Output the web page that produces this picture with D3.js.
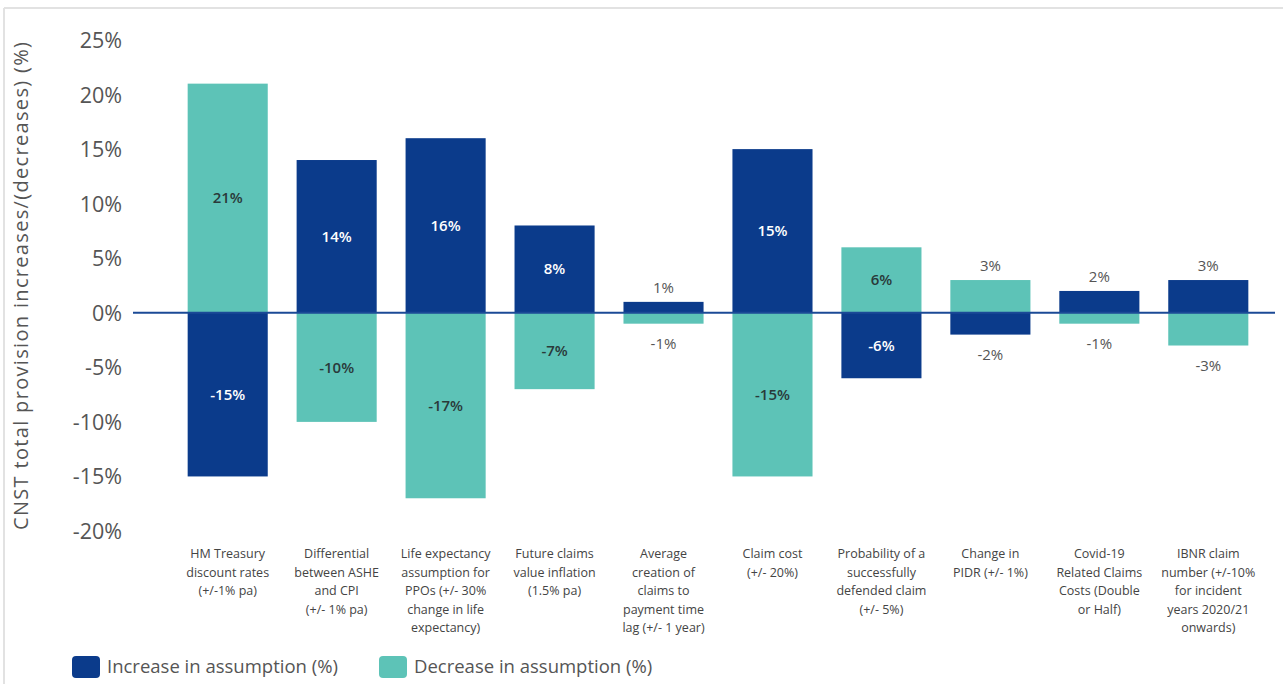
<!DOCTYPE html>
<html>
<head>
<meta charset="utf-8">
<script src="https://cdn.jsdelivr.net/npm/d3@7"></script>
<style>
  html, body { margin: 0; padding: 0; background: #fff; }
  svg { display: block; font-family: "Open Sans", "Noto Sans", sans-serif; }
</style>
</head>
<body>
<svg id="chart" width="1283" height="684"></svg>
<script>
// Sensitivity of the CNST provision to changes in key assumptions
const categories = [
  ["HM Treasury", "discount rates", "(+/-1% pa)"],
  ["Differential", "between ASHE", "and CPI", "(+/- 1% pa)"],
  ["Life expectancy", "assumption for", "PPOs (+/- 30%", "change in life", "expectancy)"],
  ["Future claims", "value inflation", "(1.5% pa)"],
  ["Average", "creation of", "claims to", "payment time", "lag (+/- 1 year)"],
  ["Claim cost", "(+/- 20%)"],
  ["Probability of a", "successfully", "defended claim", "(+/- 5%)"],
  ["Change in", "PIDR (+/- 1%)"],
  ["Covid-19", "Related Claims", "Costs (Double", "or Half)"],
  ["IBNR claim", "number (+/-10%", "for incident", "years 2020/21", "onwards)"]
];
const increaseValues = [-15, 14, 16, 8, 1, 15, -6, -2, 2, 3];
const decreaseValues = [21, -10, -17, -7, -1, -15, 6, 3, -1, -3];
const yTicks = [25, 20, 15, 10, 5, 0, -5, -10, -15, -20];
const seriesNames = ["Increase in assumption (%)", "Decrease in assumption (%)"];
const seriesColors = ["#0b3b8b", "#5dc3b7"];

const svg = d3.select("#chart");

// light frame along the top and left
svg.append("line").attr("x1", 4).attr("x2", 1283).attr("y1", 8).attr("y2", 8)
  .attr("stroke", "#e2e2e2").attr("stroke-width", 2);
svg.append("line").attr("x1", 4).attr("x2", 4).attr("y1", 8).attr("y2", 684)
  .attr("stroke", "#e2e2e2").attr("stroke-width", 2);

const y = d3.scaleLinear().domain([-20, 25]).range([531, 40]);
const x = d3.scaleBand().domain(d3.range(categories.length))
  .range([173.5, 1262.5]).paddingInner(0.265).paddingOuter(0.13);

// y axis tick labels
const yAxis = d3.axisLeft(y).tickValues(yTicks).tickSize(0).tickPadding(0)
  .tickFormat(d => d + "%");
const gy = svg.append("g").attr("transform", "translate(122,0)").call(yAxis);
gy.select(".domain").remove();
gy.selectAll("text").attr("font-size", 21.5).attr("fill", "#555")
  .attr("font-family", "'Open Sans', sans-serif").attr("dy", "0.35em");

// y axis title
svg.append("text")
  .attr("transform", "translate(28,286) rotate(-90)")
  .attr("text-anchor", "middle")
  .attr("font-size", 20).attr("fill", "#555")
  .attr("textLength", 488).attr("lengthAdjust", "spacing")
  .text("CNST total provision increases/(decreases) (%)");

// one rectangle per series per category
const rows = [];
categories.forEach((c, i) => {
  rows.push({ i, s: 0, v: increaseValues[i] });
  rows.push({ i, s: 1, v: decreaseValues[i] });
});

svg.append("g").selectAll("rect").data(rows).join("rect")
  .attr("x", d => x(d.i))
  .attr("width", x.bandwidth())
  .attr("y", d => y(Math.max(0, d.v)))
  .attr("height", d => Math.abs(y(d.v) - y(0)))
  .attr("fill", d => seriesColors[d.s]);

// zero line
svg.append("line").attr("x1", 133).attr("x2", 1275)
  .attr("y1", y(0)).attr("y2", y(0))
  .attr("stroke", "#1b4a96").attr("stroke-width", 2);

// value labels: inside large bars, outside small ones
svg.append("g").selectAll("text").data(rows).join("text")
  .attr("x", d => x(d.i) + x.bandwidth() / 2)
  .attr("y", d => {
    if (Math.abs(d.v) >= 5) return (y(d.v) + y(0)) / 2;
    return d.v > 0 ? y(d.v) - 14 : y(d.v) + 20;
  })
  .attr("dy", "0.35em")
  .attr("text-anchor", "middle")
  .attr("font-size", 15)
  .attr("font-weight", d => Math.abs(d.v) >= 5 ? 600 : 400)
  .attr("fill", d => Math.abs(d.v) >= 5 ? (d.s === 0 ? "#ffffff" : "#2a3a3a") : "#555")
  .text(d => d.v + "%");

// category labels
const cat = svg.append("g").selectAll("text").data(categories).join("text")
  .attr("x", (d, i) => x(i) + x.bandwidth() / 2)
  .attr("y", 558)
  .attr("text-anchor", "middle")
  .attr("font-size", 12.5)
  .attr("fill", "#444");
cat.selectAll("tspan").data(d => d).join("tspan")
  .attr("x", function () { return d3.select(this.parentNode).attr("x"); })
  .attr("dy", (d, j) => j === 0 ? 0 : 18.5)
  .text(d => d);

// legend
const legendX = [72, 379];
const lg = svg.append("g").selectAll("g").data(seriesNames).join("g")
  .attr("transform", (d, i) => `translate(${legendX[i]},667)`);
lg.append("rect").attr("x", 0).attr("y", -11).attr("width", 28).attr("height", 22)
  .attr("rx", 4).attr("fill", (d, i) => seriesColors[i]);
lg.append("text").attr("x", 35).attr("dy", "0.35em")
  .attr("font-size", 18.5).attr("fill", "#555").text(d => d);
</script>
</body>
</html>
